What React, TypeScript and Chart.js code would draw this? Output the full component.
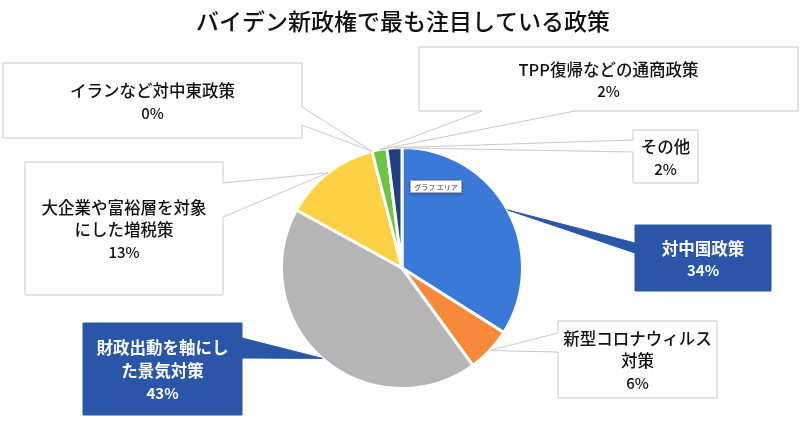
import { useEffect, useRef } from "react";
import { Chart, ArcElement, PieController } from "chart.js";
import type { Plugin } from "chart.js";

Chart.register(ArcElement, PieController);

const chartTitle = "バイデン新政権で最も注目している政策";
const categories = [
  "対中国政策",
  "新型コロナウィルス\n対策",
  "財政出動を軸にし\nた景気対策",
  "大企業や富裕層を対象\nにした増税策",
  "イランなど対中東政策",
  "TPP復帰などの通商政策",
  "その他",
];
const shares = [34, 6, 43, 13, 0, 2, 2];
const sliceColors = [
  "#3B79D9",
  "#F6893A",
  "#B5B5B5",
  "#FED145",
  "#4E86D8",
  "#6BC443",
  "#1F3F80",
];

type Side = "left" | "right" | "bottom";
interface Callout {
  x: number;
  y: number;
  w: number;
  h: number;
  side: Side;
  a: number; // start of tail base along the edge
  b: number; // end of tail base
  filled: boolean;
}

// label boxes, same order as categories
const callouts: Callout[] = [
  { x: 635, y: 225, w: 136, h: 66, side: "left", a: 243, b: 253, filled: true },
  { x: 558, y: 321, w: 159, h: 77, side: "left", a: 333, b: 352, filled: false },
  { x: 83, y: 323, w: 159, h: 92, side: "right", a: 338, b: 358, filled: true },
  { x: 25, y: 162, w: 198, h: 133, side: "right", a: 183, b: 217, filled: false },
  { x: 3, y: 63, w: 299, h: 75, side: "right", a: 107, b: 125, filled: false },
  { x: 419, y: 47, w: 379, h: 64, side: "bottom", a: 482, b: 575, filled: false },
  { x: 633, y: 130, w: 65, h: 53, side: "left", a: 140, b: 152, filled: false },
];

const FONT = '"Noto Sans CJK JP", "Noto Sans", sans-serif';

const calloutPlugin: Plugin<"pie"> = {
  id: "callouts",
  afterDraw(chart) {
    const ctx = chart.ctx;
    const arcs = chart.getDatasetMeta(0).data;
    ctx.save();

    // title
    ctx.fillStyle = "#111";
    ctx.font = `500 23px ${FONT}`;
    ctx.textAlign = "center";
    ctx.textBaseline = "middle";
    ctx.fillText(chartTitle, 403, 21);

    callouts.forEach((c, i) => {
      const p = arcs[i].getProps(
        ["x", "y", "startAngle", "endAngle", "outerRadius"],
        true
      ) as any;
      const mid = (p.startAngle + p.endAngle) / 2;
      const tx = p.x + Math.cos(mid) * p.outerRadius;
      const ty = p.y + Math.sin(mid) * p.outerRadius;

      const { x, y, w, h, side, a, b } = c;
      ctx.beginPath();
      ctx.moveTo(x, y);
      ctx.lineTo(x + w, y);
      if (side === "right") {
        ctx.lineTo(x + w, a);
        ctx.lineTo(tx, ty);
        ctx.lineTo(x + w, b);
      }
      ctx.lineTo(x + w, y + h);
      if (side === "bottom") {
        ctx.lineTo(b, y + h);
        ctx.lineTo(tx, ty);
        ctx.lineTo(a, y + h);
      }
      ctx.lineTo(x, y + h);
      if (side === "left") {
        ctx.lineTo(x, b);
        ctx.lineTo(tx, ty);
        ctx.lineTo(x, a);
      }
      ctx.closePath();
      ctx.fillStyle = c.filled ? "#2A56A8" : "#FFFFFF";
      ctx.fill();
      ctx.lineWidth = 1;
      ctx.strokeStyle = c.filled ? "#2A56A8" : "#C9C9C9";
      ctx.stroke();

      const lines = [...categories[i].split("\n"), `${shares[i]}%`];
      const lh = 22.5;
      const cy = y + h / 2 + 1.5 - ((lines.length - 1) * lh) / 2;
      ctx.fillStyle = c.filled ? "#FFFFFF" : "#111";
      lines.forEach((t, k) => {
        const isPct = k === lines.length - 1;
        ctx.font = `${c.filled ? 700 : 500} ${isPct ? 15 : 16.5}px ${FONT}`;
        ctx.fillText(t, x + w / 2, cy + k * lh);
      });
    });

    // small hover tip left over in the screenshot
    ctx.shadowColor = "rgba(0,0,0,0.35)";
    ctx.shadowBlur = 3;
    ctx.shadowOffsetY = 1;
    ctx.fillStyle = "#FFFFFF";
    ctx.fillRect(410, 180, 52, 13);
    ctx.shadowColor = "transparent";
    ctx.strokeStyle = "#AAAAAA";
    ctx.strokeRect(410.5, 180.5, 51, 12);
    ctx.fillStyle = "#333";
    ctx.font = `7px ${FONT}`;
    ctx.fillText("グラフ エリア", 436, 187);

    ctx.restore();
  },
};

const App = () => {
  const chartRef = useRef<HTMLCanvasElement | null>(null);

  useEffect(() => {
    const ctx = chartRef.current?.getContext("2d");
    if (!ctx) return;

    const pie = new Chart(ctx, {
      type: "pie",
      data: {
        labels: categories,
        datasets: [
          {
            data: shares,
            backgroundColor: sliceColors,
            borderColor: "#FFFFFF",
            borderWidth: 3,
          },
        ],
      },
      options: {
        animation: false,
        responsive: true,
        maintainAspectRatio: false,
        layout: {
          padding: { left: 280, right: 276, top: 146, bottom: 35 },
        },
        plugins: {
          legend: { display: false },
          tooltip: { enabled: false },
        },
      },
      plugins: [calloutPlugin],
    });

    return () => {
      pie.destroy();
    };
  }, []);

  return (
    <div
      style={{
        position: "fixed",
        left: 0,
        top: 0,
        width: 800,
        height: 425,
        background: "#FFFFFF",
      }}
    >
      <canvas ref={chartRef} />
    </div>
  );
};

export default App;
